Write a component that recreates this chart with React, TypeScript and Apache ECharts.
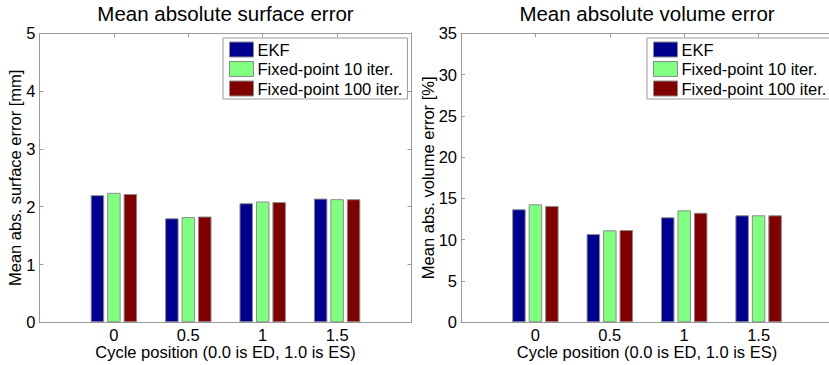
import React, { useEffect, useRef } from "react";
import * as echarts from "echarts";

const positions = [0, 0.5, 1, 1.5];
const seriesNames = ["EKF", "Fixed-point 10 iter.", "Fixed-point 100 iter."];
const seriesColors = ["#00008f", "#80ff80", "#800000"];

const surfaceEKF = [2.2, 1.8, 2.06, 2.14];
const surfaceFP10 = [2.24, 1.82, 2.09, 2.13];
const surfaceFP100 = [2.22, 1.83, 2.08, 2.13];

const volumeEKF = [13.69, 10.69, 12.72, 12.96];
const volumeFP10 = [14.29, 11.14, 13.56, 12.96];
const volumeFP100 = [14.09, 11.18, 13.27, 12.96];

const titles = ["Mean absolute surface error", "Mean absolute volume error"];
const yNames = ["Mean abs. surface error [mm]", "Mean abs. volume error [%]"];
const xName = "Cycle position (0.0 is ED, 1.0 is ES)";
const yMax = [5, 35];
const yStep = [1, 5];

const FONT = "'Liberation Sans', Arial, sans-serif";
const AXIS_GREY = "#9a9a9a";
const EDGE = "#8c8c8c";

export default function App() {
  const ref = useRef<HTMLDivElement>(null);

  useEffect(() => {
    if (!ref.current) return;
    const chart = echarts.init(ref.current, undefined, { renderer: "svg" });

    const grids = [
      { left: 39.5, top: 33.3, width: 372, height: 289, outerBoundsMode: "none", containLabel: false },
      { left: 461, top: 33.3, width: 372, height: 289, outerBoundsMode: "none", containLabel: false },
    ];

    const xAxes: any[] = [];
    const yAxes: any[] = [];
    grids.forEach((g, i) => {
      const baseX = {
        gridIndex: i,
        type: "value",
        min: -0.5,
        max: 2,
        interval: 0.5,
        splitLine: { show: false },
        axisLine: { show: true, onZero: false, lineStyle: { color: AXIS_GREY, width: 1 } },
        axisTick: { show: true, inside: true, length: 4, lineStyle: { color: AXIS_GREY } },
      };
      xAxes.push({
        ...baseX,
        position: "bottom",
        name: xName,
        nameLocation: "middle",
        nameGap: 21,
        nameMoveOverlap: false,
        nameTextStyle: { fontFamily: FONT, fontSize: 16.5, color: "#000" },
        axisLabel: {
          show: true,
          margin: 4,
          fontFamily: FONT,
          fontSize: 16.5,
          color: "#000",
          formatter: (v: number) => (positions.includes(v) ? String(v) : ""),
        },
      });
      xAxes.push({ ...baseX, position: "top", axisLabel: { show: false } });

      const baseY = {
        gridIndex: i,
        type: "value",
        min: 0,
        max: yMax[i],
        interval: yStep[i],
        splitLine: { show: false },
        axisLine: { show: true, onZero: false, lineStyle: { color: AXIS_GREY, width: 1 } },
        axisTick: { show: true, inside: true, length: 4, lineStyle: { color: AXIS_GREY } },
      };
      yAxes.push({
        ...baseY,
        position: "left",
        name: yNames[i],
        nameLocation: "middle",
        nameGap: i === 0 ? 16 : 24.5,
        nameMoveOverlap: false,
        nameRotate: 90,
        nameTextStyle: { fontFamily: FONT, fontSize: 16.5, color: "#000" },
        axisLabel: { show: true, margin: 4, fontFamily: FONT, fontSize: 16.5, color: "#000" },
      });
      yAxes.push({ ...baseY, position: "right", axisLabel: { show: false } });
    });

    const dataSets = [
      [surfaceEKF, surfaceFP10, surfaceFP100],
      [volumeEKF, volumeFP10, volumeFP100],
    ];

    const series: any[] = [];
    dataSets.forEach((sets, gi) => {
      sets.forEach((vals, si) => {
        series.push({
          type: "bar",
          name: seriesNames[si],
          xAxisIndex: gi * 2,
          yAxisIndex: gi * 2,
          barWidth: 13.5,
          barGap: "22%",
          itemStyle: { color: seriesColors[si], borderColor: EDGE, borderWidth: 1 },
          data: positions.map((p, k) => [p, vals[k]]),
        });
      });
    });

    const legendBase = {
      orient: "vertical",
      data: seriesNames.map((n) => ({ name: n, icon: "rect" })),
      icon: "rect",
      itemWidth: 24,
      itemHeight: 15,
      itemGap: 2.5,
      backgroundColor: "#fff",
      borderColor: AXIS_GREY,
      borderWidth: 1,
      borderRadius: 0,
      padding: [3, 5, 2, 6],
      selectedMode: false,
      itemStyle: { borderColor: EDGE, borderWidth: 1 },
      textStyle: { fontFamily: FONT, fontSize: 16.5, color: "#000", lineHeight: 17, padding: [0, 0, 0, -1] },
    };

    chart.setOption({
      animation: false,
      backgroundColor: "#fff",
      title: titles.map((t, i) => ({
        text: t,
        left: grids[i].left + grids[i].width / 2,
        textAlign: "center",
        top: 3,
        padding: 0,
        textStyle: { fontFamily: FONT, fontSize: 20.5, fontWeight: "normal", color: "#000" },
      })),
      legend: [
        { ...legendBase, left: 223, top: 38 },
        { ...legendBase, left: 647, top: 38 },
      ],
      grid: grids,
      xAxis: xAxes,
      yAxis: yAxes,
      series,
    });

    return () => chart.dispose();
  }, []);

  return (
    <div
      style={{
        position: "fixed",
        left: 0,
        top: 0,
        width: 829,
        height: 365,
        overflow: "hidden",
        background: "#fff",
      }}
    >
      <div ref={ref} style={{ width: 845, height: 365 }} />
    </div>
  );
}
